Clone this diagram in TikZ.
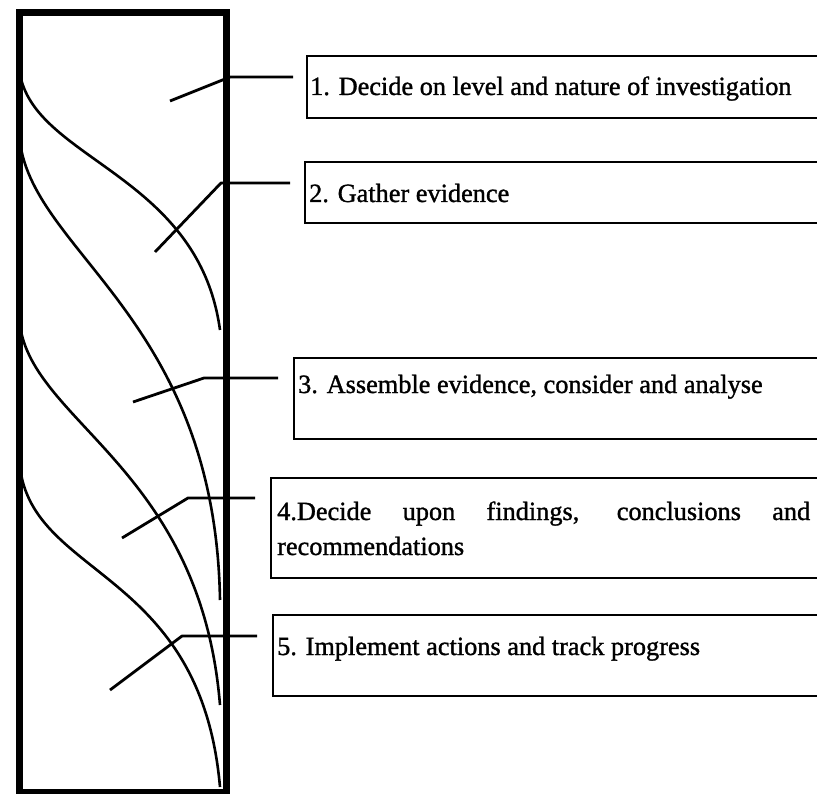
\documentclass[tikz,border=0pt]{standalone}
\usepackage{fontspec}
\setmainfont{Liberation Serif}[FakeBold=1.2]
\begin{document}
\begin{tikzpicture}[x=1pt,y=-1pt,
  col/.style={draw, line width=7pt, line join=miter, inner sep=0pt, anchor=north west},
  wave/.style={line width=2.6pt},
  conn/.style={line width=2.8pt, line join=round},
  stepbox/.style={draw, line width=2pt, anchor=north west, minimum width=560pt, inner sep=0pt},
  lbl/.style={anchor=base west, inner sep=0pt, font=\fontsize{26.3}{35}\selectfont}]
\useasboundingbox (0,0) rectangle (817,794);
\clip (0,0) rectangle (817,794);
\fill[white] (0,0) rectangle (817,794);

% tall column
\node[col, minimum width=207.5pt, minimum height=780pt] (col) at (15.5,9) {};

% waves
\draw[wave] (19,67) .. controls (27,160) and (198,170) .. (220,330);
\draw[wave] (19,130) .. controls (22,250) and (215,310) .. (220,600);
\draw[wave] (19,313) .. controls (20,420) and (200,460) .. (220,705);
\draw[wave] (19,453) .. controls (20,580) and (200,560) .. (220,787);

% boxes
\node[stepbox, minimum height=62pt] (b1) at (306,55) {};
\node[stepbox, minimum height=61pt] (b2) at (304,161) {};
\node[stepbox, minimum height=81pt] (b3) at (293,357) {};
\node[stepbox, minimum height=100pt] (b4) at (270,477) {};
\node[stepbox, minimum height=81pt] (b5) at (272,614) {};

% texts
\node[lbl] (t1) at (310,95) {1. Decide on level and nature of investigation};
\node[lbl] (t2) at (309,202) {2. Gather evidence};
\node[lbl] (t3) at (298,393) {3. Assemble evidence, consider and analyse};
\node[lbl] (t4) at (277,520) {\vtop{\hbox{\makebox[533pt][s]{4.Decide upon findings, conclusions and}}\hbox{recommendations}}};
\node[lbl] (t5) at (277,655) {5. Implement actions and track progress};

% connectors
\coordinate (k1a) at (170,101); \coordinate (k1b) at (230,77); \coordinate (k1c) at (293,77);
\coordinate (k2a) at (155,252); \coordinate (k2b) at (221,183); \coordinate (k2c) at (290,183);
\coordinate (k3a) at (133,402); \coordinate (k3b) at (204,378); \coordinate (k3c) at (278,378);
\coordinate (k4a) at (122,538); \coordinate (k4b) at (188,498); \coordinate (k4c) at (255,498);
\coordinate (k5a) at (110,690); \coordinate (k5b) at (182,636); \coordinate (k5c) at (257,636);
\draw[conn] (k1a) -- (k1b) -- (k1c);
\draw[conn] (k2a) -- (k2b) -- (k2c);
\draw[conn] (k3a) -- (k3b) -- (k3c);
\draw[conn] (k4a) -- (k4b) -- (k4c);
\draw[conn] (k5a) -- (k5b) -- (k5c);
\end{tikzpicture}
\end{document}
